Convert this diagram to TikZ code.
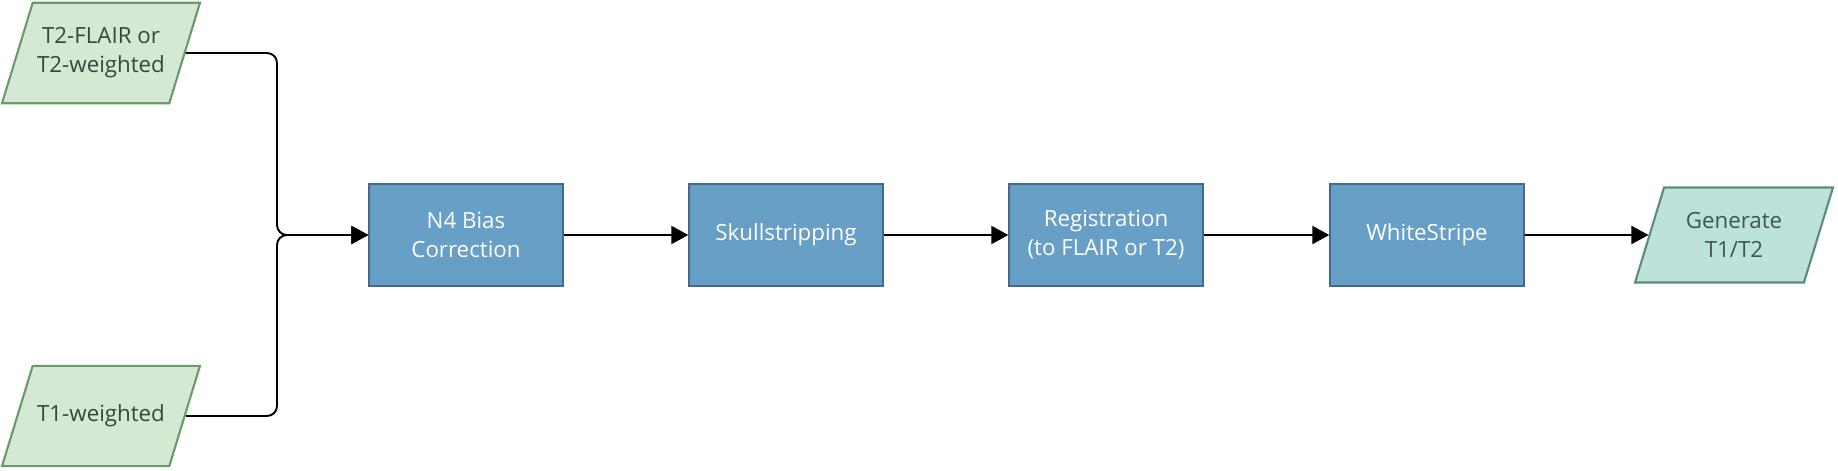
\documentclass[tikz,border=0pt]{standalone}
\usepackage{fontspec}
\setmainfont{Open Sans}
\usepackage{xcolor}
\usetikzlibrary{positioning, arrows.meta, shapes.geometric}

\definecolor{inFill}{HTML}{D5E8D4}
\definecolor{inLine}{HTML}{6A9A68}
\definecolor{inText}{HTML}{34493A}
\definecolor{outFill}{HTML}{BCE2DA}
\definecolor{outLine}{HTML}{5C8A80}
\definecolor{outText}{HTML}{3E5752}
\definecolor{stageFill}{HTML}{679FC7}
\definecolor{stageLine}{HTML}{46698A}

\begin{document}
\begin{tikzpicture}[x=0.02cm, y=-0.02cm,
  data/.style={trapezium, trapezium left angle=73, trapezium right angle=107, trapezium stretches body, line width=1.2pt, minimum width=3.96cm, inner xsep=0pt, inner ysep=14.2pt, align=center, font=\fontsize{12.7}{16.5}\selectfont},
  oneline/.style={inner ysep=22.2pt},
  stage/.style={draw=stageLine, fill=stageFill, line width=0.8pt, minimum width=3.88cm, minimum height=2.04cm, align=center, text=white, font=\fontsize{12.7}{16.5}\selectfont},
  arrow/.style={-{Triangle[length=3.4mm, width=3.6mm]}, line width=1.1pt, rounded corners=0.2cm}
]
\useasboundingbox (0,0) rectangle (1838,470);

\node[data, fill=inFill, draw=inLine, text=inText] (flair) at (101,53) {T2-FLAIR or\\T2-weighted};
\node[data, oneline, fill=inFill, draw=inLine, text=inText] (tone) at (101,416) {T1-weighted};

\node[stage] (bias) at (466,235) {N4 Bias\\Correction};
\node[stage] (skull) at (786,235) {Skullstripping};
\node[stage] (reg) at (1106,235) {Registration\\(to FLAIR or T2)};
\node[stage] (ws) at (1427,235) {WhiteStripe};

\node[data, fill=outFill, draw=outLine, text=outText] (gen) at (1734,235) {Generate\\T1/T2};

\coordinate (join) at (277,235);
\draw[arrow] (flair.east) -| (join) -- (bias.west);
\draw[arrow] (tone.east) -| (join) -- (bias.west);
\draw[arrow] (bias) -- (skull);
\draw[arrow] (skull) -- (reg);
\draw[arrow] (reg) -- (ws);
\draw[arrow] (ws) -- (gen);
\end{tikzpicture}
\end{document}
